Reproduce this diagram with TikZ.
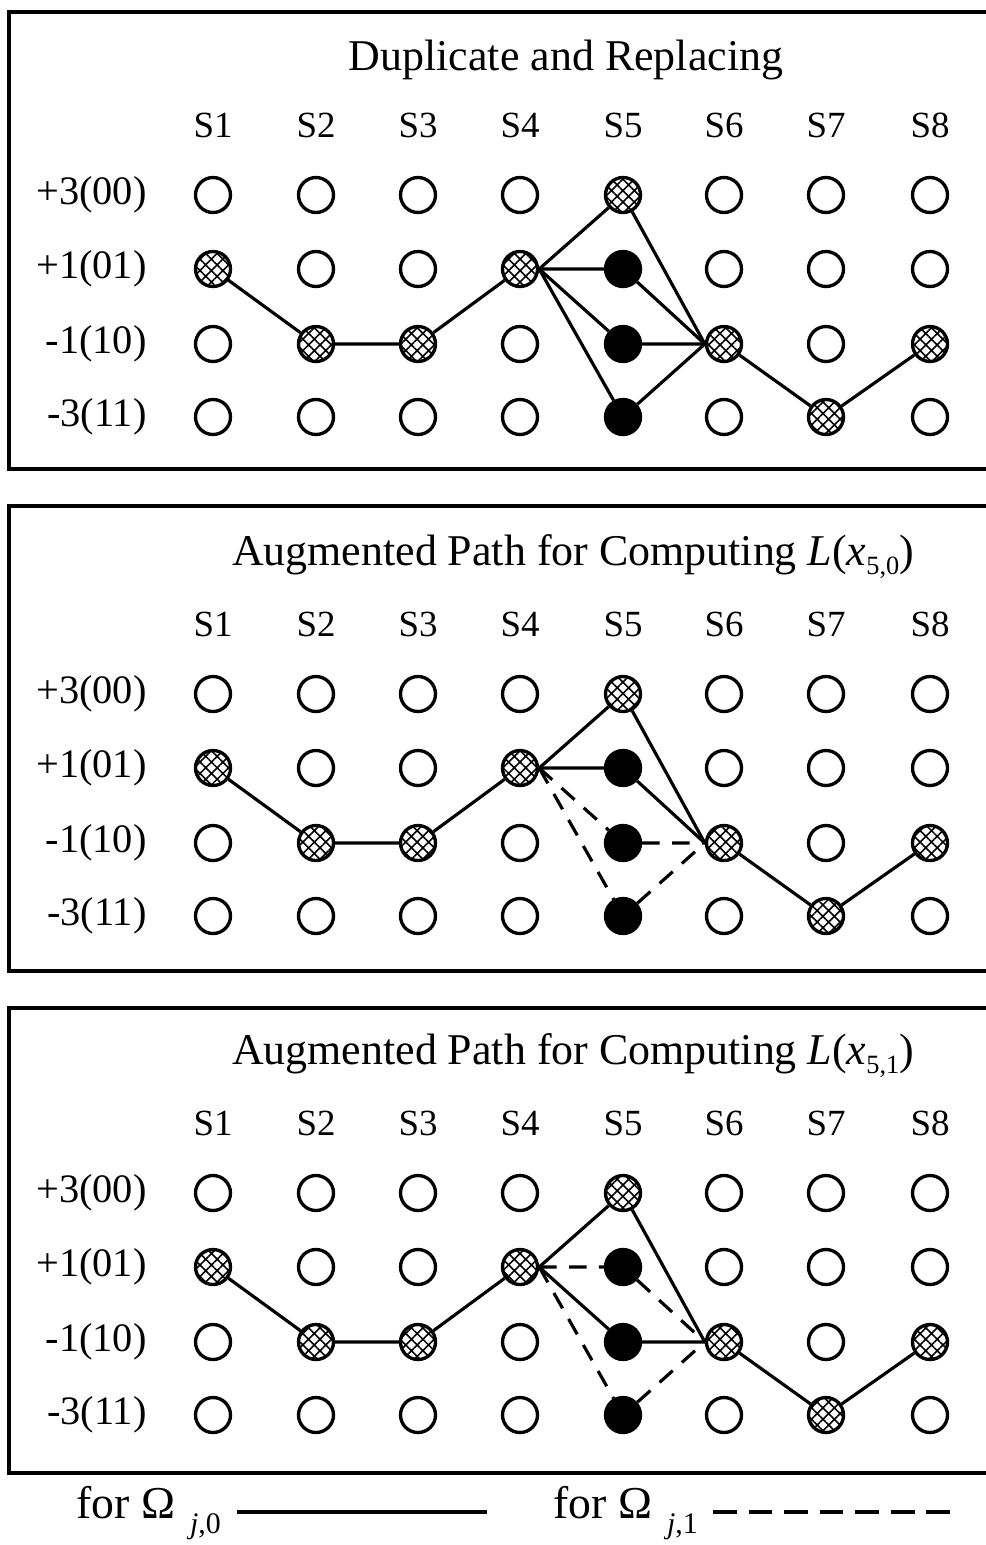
\documentclass[tikz,border=0pt]{standalone}
\usepackage{fontspec}
\setmainfont{Liberation Serif}
\usetikzlibrary{patterns.meta}

\newcommand{\sbs}[1]{\raisebox{-0.45ex}{\fontsize{15}{15}\selectfont #1}}

\begin{document}
\begin{tikzpicture}[x=0.02cm, y=-0.02cm,
	state/.style={circle, draw, line width=1.9pt, minimum size=0.7cm, inner sep=0pt},
	hatched/.style={state, pattern={Hatch[angle=45, distance=4.6pt, line width=0.9pt]}},
	filled/.style={state, fill=black},
	l_1/.style={line width=1.8pt},
	l_2/.style={line width=1.8pt, dash pattern=on 10pt off 7pt},
	lab/.style={font=\fontsize{21}{25}\selectfont},
	rowlab/.style={font=\fontsize{23}{28}\selectfont, anchor=east, inner sep=0pt},
	ttl/.style={font=\fontsize{25}{30}\selectfont},
	leg/.style={font=\fontsize{26}{30}\selectfont, anchor=west, inner sep=0pt}]
	\useasboundingbox (0,0) rectangle (985,1545);
	% three panels, same trellis, shifted down
	\foreach \p/\top/\bot/\off in {1/12/469/0, 2/506/971/499, 3/1008/1473/998} {
		\draw[line width=1.8pt] (9,\top) rectangle (992,\bot);
		\foreach \c/\cx/\h in {1/213/2, 2/316/3, 3/418/3, 4/520/2, 5/623/1, 6/724/3, 7/826/4, 8/930/3} {
			\node[lab] (s\p-\c) at (\cx,125+\off) {S\c};
			\foreach \r/\ry in {1/195, 2/269, 3/344, 4/417} {
				\ifnum\r=\h \def\sty{hatched}\else\def\sty{state}\fi
				\ifnum\c=5 \ifnum\r>1 \def\sty{filled}\fi\fi
				\node[\sty] (n\p-\c-\r) at (\cx,\ry+\off) {};
			};
		};
		\foreach \r/\ry/\txt in {1/195/+3(00), 2/269/+1(01), 3/344/-1(10), 4/417/-3(11)} {
			\node[rowlab] (r\p-\r) at (147,\ry+\off) {\txt};
		};
		% survivor path
		\draw[l_1] (n\p-1-2) -- (n\p-2-3) -- (n\p-3-3) -- (n\p-4-2);
		\draw[l_1] (n\p-6-3) -- (n\p-7-4) -- (n\p-8-3);
		\draw[l_1] (n\p-4-2.east) -- (n\p-5-1) -- (n\p-6-3.west);
	};
	\node[ttl] (t1) at (566,60) {Duplicate and Replacing};
	\node[ttl] (t2) at (573,557) {Augmented Path for Computing \textit{L}(\textit{x}\sbs{5,0})};
	\node[ttl] (t3) at (573,1056) {Augmented Path for Computing \textit{L}(\textit{x}\sbs{5,1})};
	% replaced branches
	\foreach \r in {2,3,4} {
		\draw[l_1] (n1-4-2.east) -- (n1-5-\r) -- (n1-6-3.west);
	};
	\draw[l_1] (n2-4-2.east) -- (n2-5-2) -- (n2-6-3.west);
	\foreach \r in {3,4} {
		\draw[l_2] (n2-4-2.east) -- (n2-5-\r) -- (n2-6-3.west);
	};
	\draw[l_1] (n3-4-2.east) -- (n3-5-3) -- (n3-6-3.west);
	\foreach \r in {2,4} {
		\draw[l_2] (n3-4-2.east) -- (n3-5-\r) -- (n3-6-3.west);
	};
	% legend
	\node[leg] (leg0) at (76,1513) {for Ω\,\raisebox{-0.75ex}{\fontsize{17}{17}\selectfont\ \textit{j},0}};
	\node[leg] (leg1) at (553,1513) {for Ω\,\raisebox{-0.75ex}{\fontsize{17}{17}\selectfont\ \textit{j},1}};
	\coordinate (a0) at (237,1512);
	\coordinate (e0) at (487,1512);
	\coordinate (a1) at (713,1512);
	\coordinate (e1) at (950,1512);
	\draw[l_1] (a0) -- (e0);
	\draw[l_1, dash pattern=on 13.5pt off 6.75pt] (a1) -- (e1);
\end{tikzpicture}
\end{document}
